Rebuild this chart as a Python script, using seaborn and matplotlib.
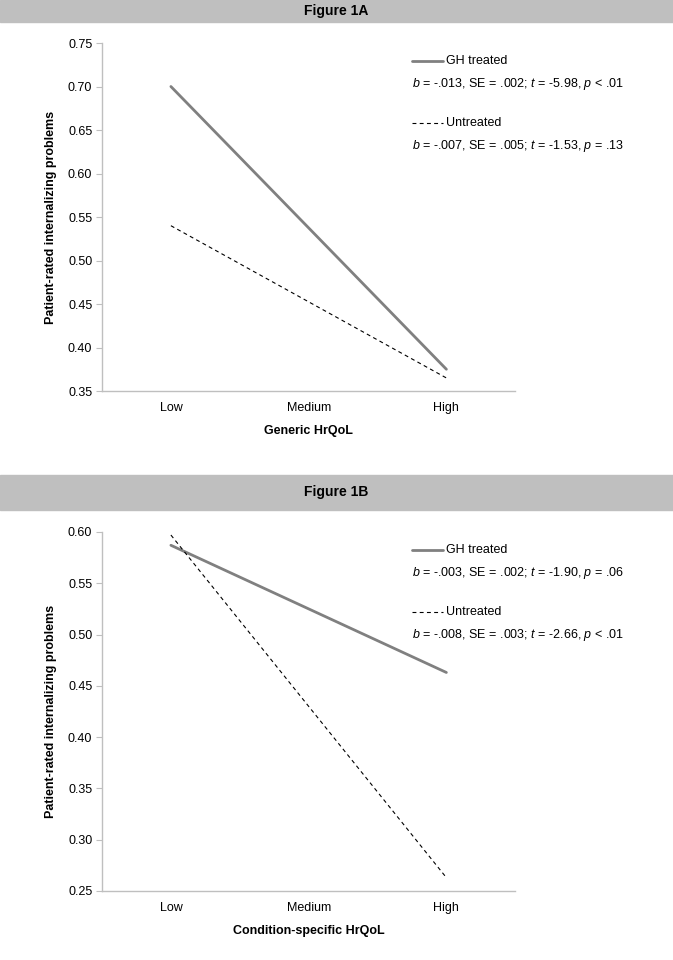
import pandas as pd
import matplotlib
matplotlib.use("Agg")
import matplotlib.pyplot as plt
import seaborn as sns

levels = ["Low", "Medium", "High"]
ends = ["Low", "High"]

gh_a = [0.700, 0.375]
un_a = [0.540, 0.365]
gh_b = [0.587, 0.463]
un_b = [0.597, 0.263]

stats_a = ["b = -.013, SE = .002; t = -5.98, p < .01",
           "b = -.007, SE = .005; t = -1.53, p = .13"]
stats_b = ["b = -.003, SE = .002; t = -1.90, p = .06",
           "b = -.008, SE = .003; t = -2.66, p < .01"]

sns.set_style("white")
plt.rcParams['font.family'] = ['Liberation Sans', 'DejaVu Sans']
plt.rcParams['mathtext.fontset'] = 'custom'
plt.rcParams['mathtext.it'] = 'Liberation Sans:italic'
plt.rcParams['mathtext.rm'] = 'Liberation Sans'
plt.rcParams['text.color'] = 'black'
plt.rcParams['axes.labelcolor'] = 'black'
plt.rcParams['xtick.labelcolor'] = 'black'
plt.rcParams['ytick.labelcolor'] = 'black'


def make_df(gh, un):
    rows = []
    for lvl, v in zip(ends, gh):
        rows.append({"x": levels.index(lvl), "y": v, "group": "GH treated"})
    for lvl, v in zip(ends, un):
        rows.append({"x": levels.index(lvl), "y": v, "group": "Untreated"})
    return pd.DataFrame(rows)


def fmt_stat(s):
    # italic b, t, p
    return s.replace("b =", "$b$ =").replace("t =", "$t$ =").replace("p ", "$p$ ")


fig = plt.figure(figsize=(6.73, 9.6), dpi=100)

panels = [
    ("Figure 1A", gh_a, un_a, stats_a, "Generic HrQoL", (0.35, 0.75), 0.05,
     [0.1516, 0.5927, 0.614, 0.3625], (0.977, 1.0)),
    ("Figure 1B", gh_b, un_b, stats_b, "Condition-specific HrQoL", (0.25, 0.60), 0.05,
     [0.1516, 0.0719, 0.614, 0.374], (0.469, 0.505)),
]

for title, gh, un, stats, xlabel, ylim, step, rect, band in panels:
    # header band
    fig.patches.append(plt.Rectangle((0, band[0]), 1, band[1] - band[0],
                                     transform=fig.transFigure, color="#bfbfbf", zorder=0))
    fig.text(0.5, (band[0] + band[1]) / 2, title, ha="center", va="center",
             fontsize=10, fontweight="bold")

    ax = fig.add_axes(rect)
    df = make_df(gh, un)
    sns.lineplot(data=df, x="x", y="y", hue="group", style="group",
                 palette={"GH treated": "#808080", "Untreated": "black"},
                 dashes={"GH treated": "", "Untreated": (3.5, 3)},
                 size="group", sizes={"GH treated": 2.0, "Untreated": 0.8},
                 legend=False, ax=ax)

    ax.set_xlim(-0.5, 2.5)
    ax.set_ylim(*ylim)
    n = int(round((ylim[1] - ylim[0]) / step))
    yt = [ylim[0] + i * step for i in range(n + 1)]
    ax.set_yticks(yt)
    ax.set_yticklabels([f"{v:.2f}" for v in yt], fontsize=9)
    ax.set_xticks(range(len(levels)))
    ax.set_xticklabels(levels, fontsize=9)
    ax.set_xticks([-0.5, 0.5, 1.5, 2.5], minor=True)
    ax.tick_params(axis="x", which="major", length=0, pad=8)
    ax.tick_params(axis="x", which="minor", length=4, direction="out", color="#bfbfbf")
    ax.tick_params(axis="y", length=4, direction="out", color="#bfbfbf", left=True, pad=3)
    for side in ["top", "right"]:
        ax.spines[side].set_visible(False)
    for side in ["left", "bottom"]:
        ax.spines[side].set_color("#bfbfbf")
        ax.spines[side].set_linewidth(1.0)
    ax.set_xlabel(xlabel, fontsize=9, fontweight="bold", labelpad=8)
    ax.set_ylabel("Patient-rated internalizing problems", fontsize=9, fontweight="bold", labelpad=8)

    # legend / stats text
    ax_top = rect[1] + rect[3]
    y0 = ax_top - 18 / 960
    fig.lines.append(plt.Line2D([412 / 673, 443 / 673], [y0, y0], transform=fig.transFigure,
                                color="#808080", lw=2.0))
    fig.text(446 / 673, y0, "GH treated", va="center", fontsize=9)
    fig.text(412 / 673, y0 - 23 / 960, fmt_stat(stats[0]), va="center", fontsize=9)
    y1 = y0 - 62 / 960
    fig.lines.append(plt.Line2D([412 / 673, 443 / 673], [y1, y1], transform=fig.transFigure,
                                color="black", lw=0.8, dashes=(3.5, 3)))
    fig.text(446 / 673, y1, "Untreated", va="center", fontsize=9)
    fig.text(412 / 673, y1 - 23 / 960, fmt_stat(stats[1]), va="center", fontsize=9)

fig.savefig("out.png", dpi=100)
